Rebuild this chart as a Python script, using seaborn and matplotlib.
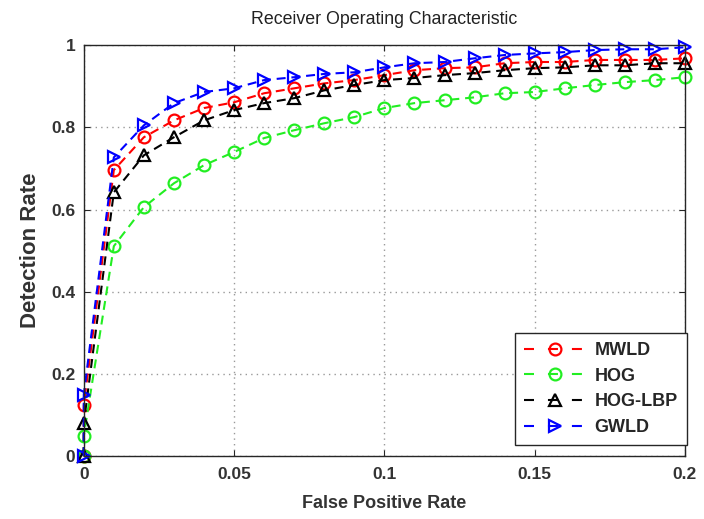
import pandas as pd
import matplotlib
matplotlib.use("Agg")
import matplotlib.pyplot as plt
from matplotlib.lines import Line2D
import seaborn as sns

# false positive rates (two points at 0: origin and first threshold)
fpr = [0, 0, 0.01, 0.02, 0.03, 0.04, 0.05, 0.06, 0.07, 0.08, 0.09, 0.10,
       0.11, 0.12, 0.13, 0.14, 0.15, 0.16, 0.17, 0.18, 0.19, 0.20]

mwld = [0, 0.124, 0.696, 0.776, 0.817, 0.847, 0.861, 0.883, 0.895, 0.907, 0.915,
        0.927, 0.939, 0.944, 0.946, 0.956, 0.959, 0.959, 0.964, 0.964, 0.964, 0.968]
hog = [0, 0.05, 0.511, 0.606, 0.664, 0.708, 0.740, 0.774, 0.793, 0.810, 0.825,
       0.847, 0.859, 0.866, 0.873, 0.883, 0.886, 0.895, 0.903, 0.910, 0.915, 0.922]
hog_lbp = [0, 0.08, 0.642, 0.732, 0.776, 0.817, 0.842, 0.859, 0.871, 0.890, 0.903,
           0.915, 0.920, 0.927, 0.932, 0.939, 0.944, 0.946, 0.951, 0.951, 0.956, 0.956]
gwld = [0, 0.15, 0.727, 0.805, 0.859, 0.886, 0.895, 0.915, 0.922, 0.930, 0.934,
        0.946, 0.956, 0.959, 0.968, 0.976, 0.980, 0.983, 0.988, 0.990, 0.990, 0.995]

methods = ['MWLD', 'HOG', 'HOG-LBP', 'GWLD']
colors = ['#ff0000', '#22ee22', '#000000', '#0000ff']
markers = ['o', 'o', '^', '>']

xticks = [0, 0.05, 0.1, 0.15, 0.2]
xtick_labels = ['0', '0.05', '0.1', '0.15', '0.2']
yticks = [0, 0.2, 0.4, 0.6, 0.8, 1]
ytick_labels = ['0', '0.2', '0.4', '0.6', '0.8', '1']


def build_df():
    frames = []
    for name, vals in zip(methods, [mwld, hog, hog_lbp, gwld]):
        frames.append(pd.DataFrame({'fpr': fpr, 'rate': vals, 'method': name}))
    return pd.concat(frames, ignore_index=True)


def plot_roc(roc_df):
    sns.set_style("ticks")
    plt.rcParams['font.family'] = ['Liberation Sans', 'DejaVu Sans']

    fig = plt.figure(figsize=(7.04, 5.19), dpi=100)
    ax = fig.add_axes([0.119, 0.121, 0.854, 0.792])

    # draw each curve
    for name, col, mk in zip(methods, colors, markers):
        sub = roc_df[roc_df['method'] == name]
        sns.lineplot(x='fpr', y='rate', data=sub, ax=ax, estimator=None, sort=False,
                     color=col, marker=mk, markersize=8.5, markeredgewidth=1.6,
                     markeredgecolor=col, markerfacecolor='none',
                     linewidth=1.5, linestyle=(0, (4.3, 2.8)),
                     clip_on=False, legend=False)

    ax.set_xlim(0, 0.2)
    ax.set_ylim(0, 1)
    ax.set_xticks(xticks)
    ax.set_xticklabels(xtick_labels, fontweight='bold', fontsize=12.5)
    ax.set_yticks(yticks)
    ax.set_yticklabels(ytick_labels, fontweight='bold', fontsize=12.5)
    ax.tick_params(direction='in', top=True, right=True, length=4, colors='#262626',
                   labelcolor='#333333')
    ax.tick_params(axis='x', pad=8)
    ax.tick_params(axis='y', pad=6)
    ax.grid(True, linestyle=(0, (1, 3)), color='#999999', linewidth=1)
    for sp in ax.spines.values():
        sp.set_color('#262626')
        sp.set_linewidth(1)

    ax.set_xlabel('False Positive Rate', fontweight='bold', fontsize=13,
                  color='#333333', labelpad=9)
    ax.set_ylabel('Detection Rate', fontweight='bold', fontsize=16,
                  color='#333333', labelpad=7)
    ax.set_title('Receiver Operating Characteristic', fontsize=12.8,
                 color='#222222', pad=15)

    # legend handles in the "- o -" style
    handles = [Line2D([], [], color=col, marker=mk, markersize=8.5, markeredgewidth=1.6,
                      markerfacecolor='none', linewidth=1.5,
                      linestyle=(0, (4.8, 6.7)))
               for col, mk in zip(colors, markers)]
    ax.legend(handles, methods, loc='lower right', bbox_to_anchor=(1.003, 0.027),
              borderaxespad=0, handlelength=3.4, handletextpad=0.5,
              prop={'weight': 'bold', 'size': 13},
              frameon=True, fancybox=False, framealpha=1, edgecolor='#262626',
              labelspacing=0.48, borderpad=0.5)

    fig.savefig('out.png', dpi=100, facecolor='white')
    plt.close(fig)


if __name__ == '__main__':
    roc_df = build_df()
    plot_roc(roc_df)
